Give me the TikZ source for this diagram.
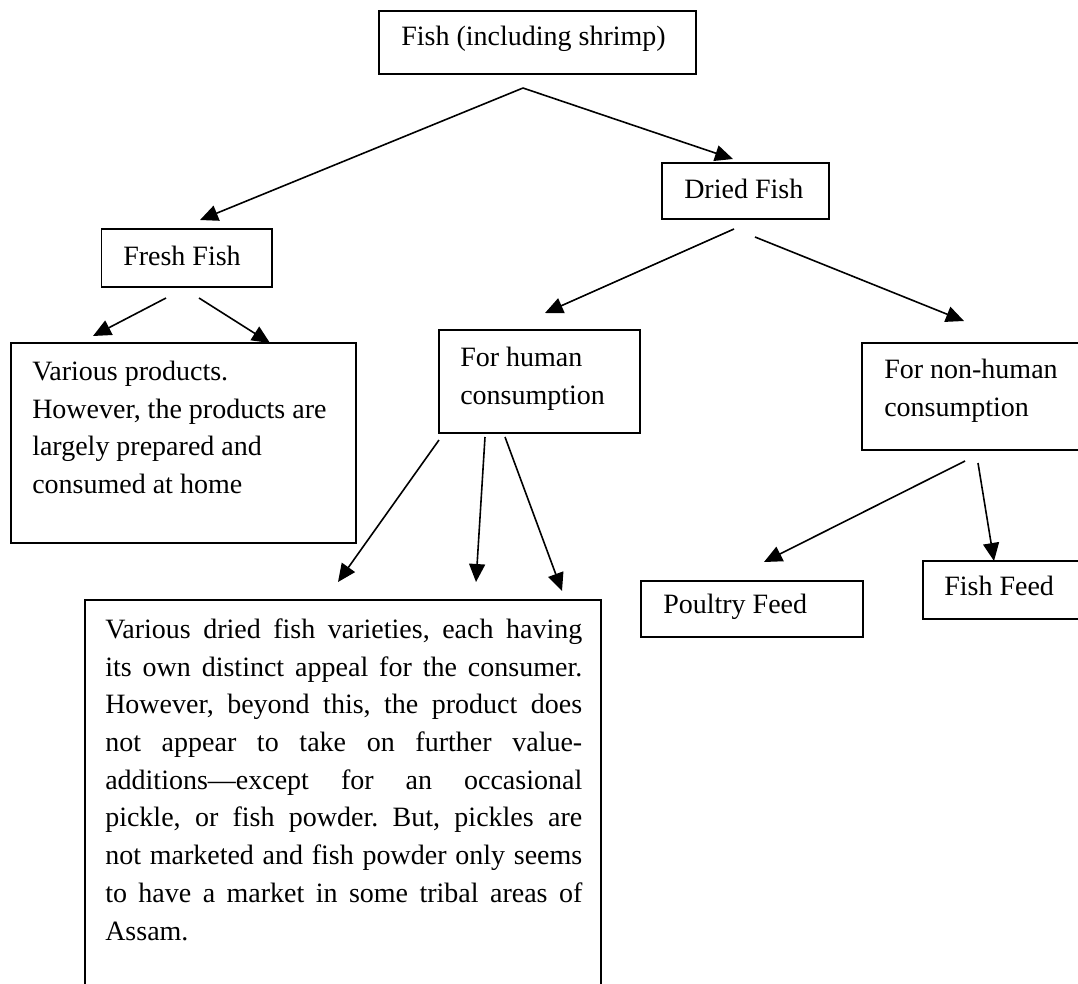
\documentclass[tikz,border=0pt]{standalone}
\usepackage{fontspec}
\setmainfont{Liberation Serif}
\usetikzlibrary{arrows.meta,fit}
\tikzset{
  boxnode/.style={draw=black,line width=1.2pt,inner sep=0pt,rectangle},
  txt/.style={inner sep=0pt,font=\fontsize{21}{28.3}\selectfont,anchor=base west},
  mtxt/.style={inner sep=0pt,font=\fontsize{21}{28.3}\selectfont,anchor=north west,align=left},
  arr/.style={line width=1.2pt,-{Triangle[length=13.5pt,width=12pt]}}
}
\begin{document}
\frenchspacing
\begin{tikzpicture}[x=0.75pt,y=-0.75pt]
\useasboundingbox (0,0) rectangle (1078,983);
\fill[white] (0,0) rectangle (1078,983);
\clip (0,0) rectangle (1078,983);

% boxes
\node[boxnode,fit={(379,11) (696,74)}] (top) {};
\node[boxnode,fit={(662,163) (829,219)}] (dried) {};
\node[boxnode,fit={(101.6,229) (271.7,287)}] (fresh) {};
\node[boxnode,fit={(11,343) (356,543)}] (various) {};
\node[boxnode,fit={(439,330) (640,433)}] (human) {};
\node[boxnode,fit={(862,343) (1110,450)}] (nonhuman) {};
\node[boxnode,fit={(641,581) (863,637)}] (poultry) {};
\node[boxnode,fit={(923,561) (1110,619)}] (fishfeed) {};
\node[boxnode,fit={(85,600) (601,1020)}] (big) {};

% texts
\node[txt] (topT) at (401,45) {Fish (including shrimp)};
\node[txt] (driedT) at (684,198) {Dried Fish};
\node[txt] (freshT) at (123,265) {Fresh Fish};
\node[mtxt] (variousT) at (32,353.6) {\strut Various products.\\However, the products are\\largely prepared and\\consumed at home};
\node[mtxt] (humanT) at (460,339.6) {\strut For human\\consumption};
\node[mtxt] (nonhumanT) at (884,351.6) {\strut For non-human\\consumption};
\node[txt] (poultryT) at (663,613) {Poultry Feed};
\node[txt] (fishfeedT) at (944,595) {Fish Feed};
\node[mtxt,align=justify,text width=357.75pt] (bigT) at (105,611.6) {\frenchspacing\tolerance=10000\hbadness=10000\noindent\strut Various dried fish varieties, each having\linebreak its own distinct appeal for the consumer.\linebreak However, beyond this, the product does\linebreak not appear to take on further value-\linebreak additions—except for an occasional\linebreak pickle, or fish powder. But, pickles are\linebreak not marketed and fish powder only seems\linebreak to have a market in some tribal areas of\linebreak Assam.};

% connector end points
\coordinate (j) at (523,88);
\coordinate (jf) at (200,220);
\coordinate (jd) at (733,159);
\coordinate (d1) at (734,229);
\coordinate (d1t) at (545,313);
\coordinate (d2) at (755,237);
\coordinate (d2t) at (964,321);
\coordinate (f1) at (166,298);
\coordinate (f1t) at (93,336);
\coordinate (f2) at (199,298);
\coordinate (f2t) at (270,343);
\coordinate (h1) at (439,440);
\coordinate (h1t) at (338,582);
\coordinate (h2) at (485,437);
\coordinate (h2t) at (476,582);
\coordinate (h3) at (505,437);
\coordinate (h3t) at (562,591);
\coordinate (n1) at (965,461);
\coordinate (n1t) at (764,562);
\coordinate (n2) at (978,463);
\coordinate (n2t) at (994,561);

% connectors
\draw[arr] (j) -- (jf);
\draw[arr] (j) -- (jd);
\draw[arr] (d1) -- (d1t);
\draw[arr] (d2) -- (d2t);
\draw[arr] (f1) -- (f1t);
\draw[arr] (f2) -- (f2t);
\draw[arr] (h1) -- (h1t);
\draw[arr] (h2) -- (h2t);
\draw[arr] (h3) -- (h3t);
\draw[arr] (n1) -- (n1t);
\draw[arr] (n2) -- (n2t);
\end{tikzpicture}
\end{document}
